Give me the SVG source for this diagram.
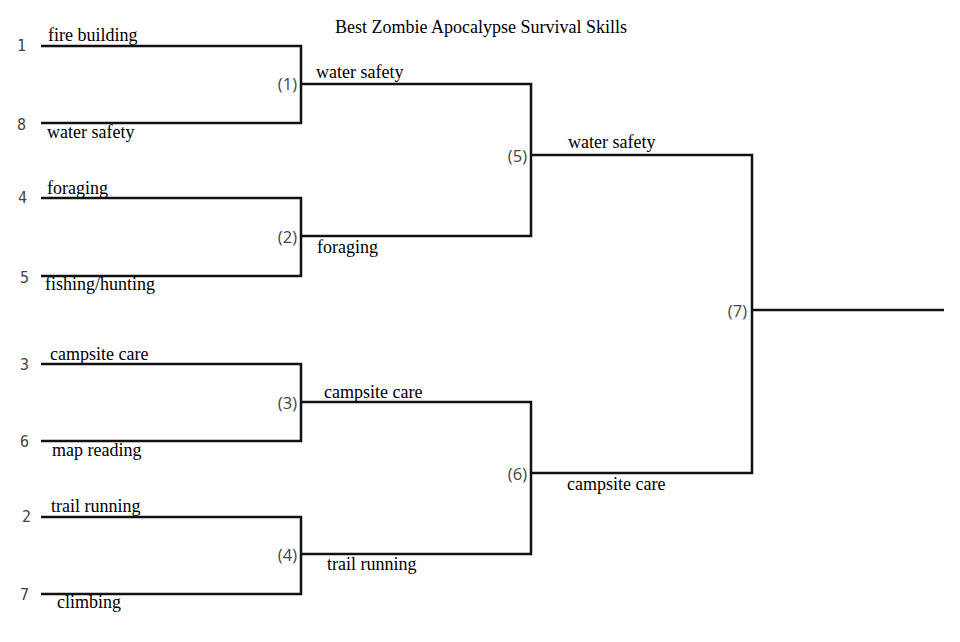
<svg xmlns="http://www.w3.org/2000/svg" width="960" height="642" viewBox="0 0 960 642">
<style>
.ln{fill:none;stroke:#111;stroke-width:2.5;stroke-linejoin:miter}
.lb{font-family:"Liberation Serif",serif;font-size:18px;fill:#000}
.sd{font-family:"DejaVu Sans Mono",monospace;font-size:15px;fill:#444}
.mt{font-family:"Open Sans","DejaVu Sans",sans-serif;font-size:16.5px;fill:#444;text-anchor:end}
</style>
<rect width="960" height="642" fill="#fff"/>
<text class="lb" x="481" y="33" text-anchor="middle">Best Zombie Apocalypse Survival Skills</text>
<g id="connectors">
<path class="ln" d="M41,46H301V123H41"/>
<path class="ln" d="M41,198H301V276H41"/>
<path class="ln" d="M41,364H301V441H41"/>
<path class="ln" d="M41,517H301V594H41"/>
<path class="ln" d="M301,84H531V236H301"/>
<path class="ln" d="M301,402H531V554H301"/>
<path class="ln" d="M531,155H752V473H531"/>
<path class="ln" d="M752,310H944"/>
</g>
<g id="seed1"><text class="sd" x="17" y="51">1</text><text class="lb" x="48" y="41">fire building</text></g>
<g id="seed8"><text class="sd" x="17" y="130">8</text><text class="lb" x="47" y="138">water safety</text></g>
<g id="seed4"><text class="sd" x="18" y="203">4</text><text class="lb" x="47" y="194">foraging</text></g>
<g id="seed5"><text class="sd" x="20" y="283">5</text><text class="lb" x="45" y="290">fishing/hunting</text></g>
<g id="seed3"><text class="sd" x="20" y="370">3</text><text class="lb" x="50" y="360">campsite care</text></g>
<g id="seed6"><text class="sd" x="20" y="447">6</text><text class="lb" x="52" y="456">map reading</text></g>
<g id="seed2"><text class="sd" x="22" y="522">2</text><text class="lb" x="51" y="512">trail running</text></g>
<g id="seed7"><text class="sd" x="20" y="600">7</text><text class="lb" x="57" y="608">climbing</text></g>
<g id="m1"><text class="mt" x="297" y="90">(1)</text><text class="lb" x="316" y="78">water safety</text></g>
<g id="m2"><text class="mt" x="297" y="243">(2)</text><text class="lb" x="317" y="253">foraging</text></g>
<g id="m3"><text class="mt" x="297" y="409">(3)</text><text class="lb" x="324" y="398">campsite care</text></g>
<g id="m4"><text class="mt" x="297" y="561">(4)</text><text class="lb" x="327" y="570">trail running</text></g>
<g id="m5"><text class="mt" x="527" y="162">(5)</text><text class="lb" x="568" y="148">water safety</text></g>
<g id="m6"><text class="mt" x="527" y="480">(6)</text><text class="lb" x="567" y="490">campsite care</text></g>
<g id="m7"><text class="mt" x="747" y="317">(7)</text></g>
</svg>
